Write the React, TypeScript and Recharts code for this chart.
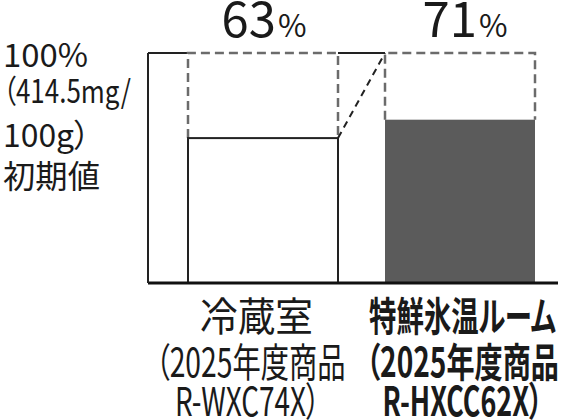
import { Bar, BarChart, XAxis, YAxis } from "recharts";

const categories = ["冷蔵室", "特鮮氷温ルーム"];
const retention = [63, 71];
const modelLines = [
  ["冷蔵室", "（2025年度商品", "R-WXC74X）"],
  ["特鮮氷温ルーム", "（2025年度商品", "R-HXCC62X）"],
];
const baseLines = ["100%", "（414.5mg/", "100g）", "初期値"];

const data = categories.map((name, i) => ({ name, value: retention[i] }));

const FONT = "'Noto Sans CJK JP', 'Noto Sans', sans-serif";
const W = 562;
const H = 420;
const Y_WIDTH = 148;
const X_HEIGHT = 137;
const TOP = 53;
const BAR_FILLS = ["#ffffff", "#5b5b5b"];
const DASH = "#6b6b6b";
const VALUE_DX = [1, 5];

// label layout (per line): width and horizontal shift from bar center
const modelLayout = [
  { weight: 400, widths: [113, 190, 145], dx: [-6, -12, -15] },
  { weight: 700, widths: [187, 193, 160], dx: [3, 3, 3] },
];
const modelBaselines = [48, 94, 133];
const baseWidths = [85, 128, 87, 97];
const baseBaselines = [14, 50, 94, 135];

// geometry of bars already drawn, used to connect neighbours
const drawn: { x: number; w: number; top: number; barTop: number }[] = [];

function BarShape(props: any) {
  const { x, y, width, height, index, value } = props;
  const bottom = y + height;
  const top = bottom - (height * 100) / value;
  drawn[index] = { x, w: width, top, barTop: y };
  const prev = drawn[index - 1];
  const cx = x + width / 2 + VALUE_DX[index];
  return (
    <g>
      {index === 0 && <line x1={Y_WIDTH} y1={top} x2={x} y2={top} stroke="#222" strokeWidth={2} />}
      {prev && (
        <>
          <line x1={prev.x + prev.w} y1={top} x2={x} y2={top} stroke="#222" strokeWidth={2} />
          <line x1={prev.x + prev.w} y1={prev.barTop} x2={x} y2={top} stroke="#222" strokeWidth={2} strokeDasharray="7 5" />
        </>
      )}
      <path
        d={`M${x},${y} L${x},${top} L${x + width},${top} L${x + width},${y}`}
        fill="none"
        stroke={DASH}
        strokeWidth={2.5}
        strokeDasharray="9 5"
      />
      <rect
        x={x}
        y={y}
        width={width}
        height={height}
        fill={BAR_FILLS[index]}
        stroke={index === 0 ? "#222" : "none"}
        strokeWidth={2}
      />
      <text x={cx} y={top - 16} textAnchor="middle" fontFamily={FONT} fill="#1a1a1a">
        <tspan fontSize={49}>{value}</tspan>
        <tspan fontSize={31} dx={2}>%</tspan>
      </text>
    </g>
  );
}

function ModelTick(props: any) {
  const { x, y, index } = props;
  const lay = modelLayout[index];
  return (
    <g>
      {modelLines[index].map((line, i) => (
        <text
          key={i}
          x={x + lay.dx[i]}
          y={y + modelBaselines[i]}
          textAnchor="middle"
          fontFamily={FONT}
          fontSize={40}
          fontWeight={lay.weight}
          fill="#1a1a1a"
          textLength={lay.widths[i]}
          lengthAdjust="spacingAndGlyphs"
          style={{ fontFeatureSettings: '"palt"' }}
        >
          {line}
        </text>
      ))}
    </g>
  );
}

function BaseTick(props: any) {
  const { y } = props;
  return (
    <g>
      {baseLines.map((line, i) => (
        <text
          key={i}
          x={3}
          y={y + baseBaselines[i]}
          textAnchor="start"
          fontFamily={FONT}
          fontSize={32}
          fill="#1a1a1a"
          textLength={baseWidths[i]}
          lengthAdjust="spacingAndGlyphs"
          style={{ fontFeatureSettings: '"palt"' }}
        >
          {line}
        </text>
      ))}
    </g>
  );
}

export default function App() {
  drawn.length = 0;
  return (
    <div style={{ position: "absolute", left: 0, top: 0, background: "#fff" }}>
      <BarChart width={W} height={H} data={data} margin={{ top: TOP, right: 4, bottom: 0, left: 0 }}>
        <XAxis
          dataKey="name"
          height={X_HEIGHT}
          interval={0}
          tickLine={false}
          tickSize={0}
          tickMargin={0}
          axisLine={{ stroke: "#111", strokeWidth: 3 }}
          padding={{ left: 16, right: 0 }}
          tick={<ModelTick />}
        />
        <YAxis
          width={Y_WIDTH}
          domain={[0, 100]}
          ticks={[100]}
          tickLine={false}
          axisLine={{ stroke: "#222", strokeWidth: 2 }}
          tick={<BaseTick />}
        />
        <Bar dataKey="value" barSize={150} shape={<BarShape />} isAnimationActive={false} />
      </BarChart>
    </div>
  );
}
